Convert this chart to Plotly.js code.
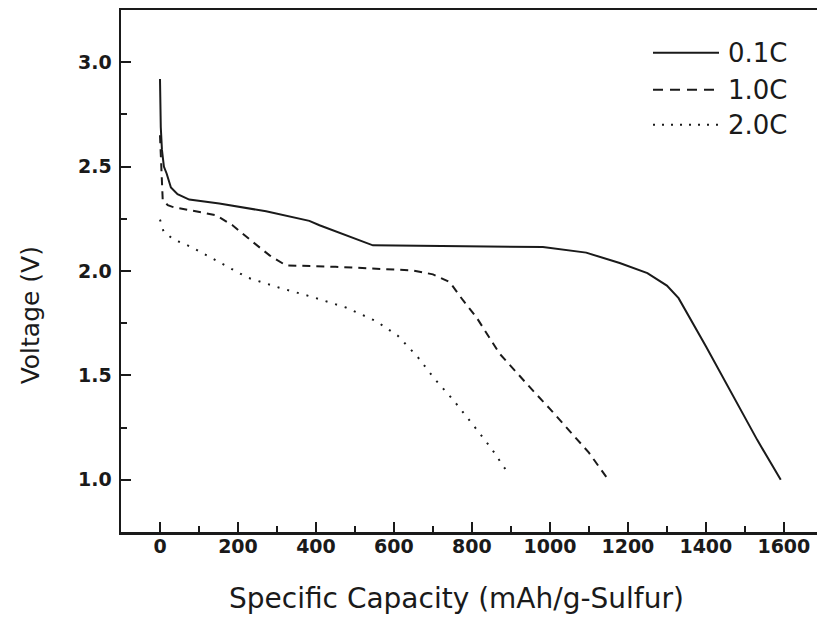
<!DOCTYPE html>
<html>
<head>
<meta charset="utf-8">
<script src="https://cdn.plot.ly/plotly-3.0.1.min.js"></script>
<style>
html,body{margin:0;padding:0;overflow:hidden;background:#fff;width:817px;height:624px;}
#chart{width:817px;height:624px;}
</style>
</head>
<body>
<div id="chart"></div>
<script>
// Series names
const seriesNames = ["0.1C", "1.0C", "2.0C"];

// 0.1C discharge curve
const cap01 = [0, 2, 5, 10, 17, 28, 45, 75, 152, 272, 383, 409, 546, 982, 1093, 1179, 1250, 1300, 1330, 1400, 1532, 1592];
const v01   = [2.92, 2.69, 2.58, 2.50, 2.467, 2.40, 2.368, 2.342, 2.323, 2.286, 2.24, 2.219, 2.123, 2.115, 2.088, 2.038, 1.99, 1.93, 1.87, 1.64, 1.19, 1.0];

// 1.0C discharge curve
const cap10 = [0, 4, 7, 20, 32, 144, 186, 238, 281, 323, 450, 648, 700, 743, 777, 811, 871, 956, 1000, 1100, 1150];
const v10   = [2.65, 2.45, 2.34, 2.315, 2.307, 2.267, 2.219, 2.139, 2.075, 2.027, 2.02, 2.003, 1.984, 1.947, 1.86, 1.78, 1.604, 1.428, 1.34, 1.13, 1.0];

// 2.0C discharge curve
const cap20 = [0, 9, 35, 62, 88, 116, 144, 225, 306, 392, 477, 554, 610, 661, 704, 751, 800, 850, 897];
const v20   = [2.246, 2.19, 2.15, 2.131, 2.107, 2.079, 2.05, 1.968, 1.92, 1.875, 1.825, 1.76, 1.69, 1.588, 1.484, 1.385, 1.27, 1.15, 1.02];

// Axis texts
const xTitle = "Specific Capacity (mAh/g-Sulfur)";
const yTitle = "Voltage (V)";

const ink = "#1a1a1a";
const tickFont = {family: "DejaVu Sans", size: 19, color: ink, weight: "bold"};

const traces = [
  {x: cap01, y: v01, name: seriesNames[0], mode: "lines", line: {color: ink, width: 2, dash: "solid"}},
  {x: cap10, y: v10, name: seriesNames[1], mode: "lines", line: {color: ink, width: 2, dash: "8px,6px"}},
  {x: cap20, y: v20, name: seriesNames[2], mode: "lines", line: {color: ink, width: 2, dash: "2px,8px"}}
];

// plot area: left 121px, width 696px
const PW = 696;
const px = (p) => (p - 121) / PW;

// legend built from shapes + annotations
const legY = [0.918, 0.847, 0.780];
const legDash = ["solid", "10px,7px", "2px,7px"];
const shapes = legY.map((y, i) => ({
  type: "line", xref: "paper", yref: "paper",
  x0: px(653), x1: px(719), y0: y, y1: y,
  line: {color: ink, width: 2, dash: legDash[i]}
}));
const annotations = legY.map((y, i) => ({
  xref: "paper", yref: "paper", x: px(726), y: y, xanchor: "left", yanchor: "middle",
  text: seriesNames[i], showarrow: false,
  font: {family: "DejaVu Sans", size: 26, color: ink}
}));
annotations.push({
  xref: "paper", yref: "paper", x: px(456), y: -0.128, xanchor: "center", yanchor: "middle",
  text: xTitle, showarrow: false, font: {family: "DejaVu Sans", size: 28, color: ink}
});
annotations.push({
  xref: "paper", yref: "paper", x: px(30), y: 0.415, xanchor: "center", yanchor: "middle",
  text: yTitle, textangle: -90, showarrow: false, font: {family: "DejaVu Sans", size: 25, color: ink}
});

const layout = {
  width: 817, height: 624,
  margin: {l: 121, r: 0, t: 10, b: 92},
  paper_bgcolor: "#fff", plot_bgcolor: "#fff",
  showlegend: false,
  xaxis: {
    range: [-100, 1685], dtick: 200, tick0: 0,
    showgrid: false, zeroline: false,
    showline: true, linecolor: ink, linewidth: 2.5, mirror: true,
    ticks: "inside", ticklen: 10, tickwidth: 2, tickcolor: ink,
    minor: {ticks: "inside", ticklen: 6, tickwidth: 2, tickcolor: ink, dtick: 100, showgrid: false},
    tickfont: tickFont, ticklabelstandoff: -4
  },
  yaxis: {
    range: [0.75, 3.25], dtick: 0.5, tick0: 0, tickformat: ".1f",
    showgrid: false, zeroline: false,
    showline: true, linecolor: ink, linewidth: 2.5, mirror: false,
    ticks: "inside", ticklen: 10, tickwidth: 2, tickcolor: ink,
    minor: {ticks: "inside", ticklen: 6, tickwidth: 2, tickcolor: ink, dtick: 0.25, showgrid: false},
    tickfont: tickFont, ticklabelstandoff: 3
  },
  shapes: shapes,
  annotations: annotations
};

Plotly.newPlot("chart", traces, layout, {staticPlot: true, displayModeBar: false});
</script>
</body>
</html>
